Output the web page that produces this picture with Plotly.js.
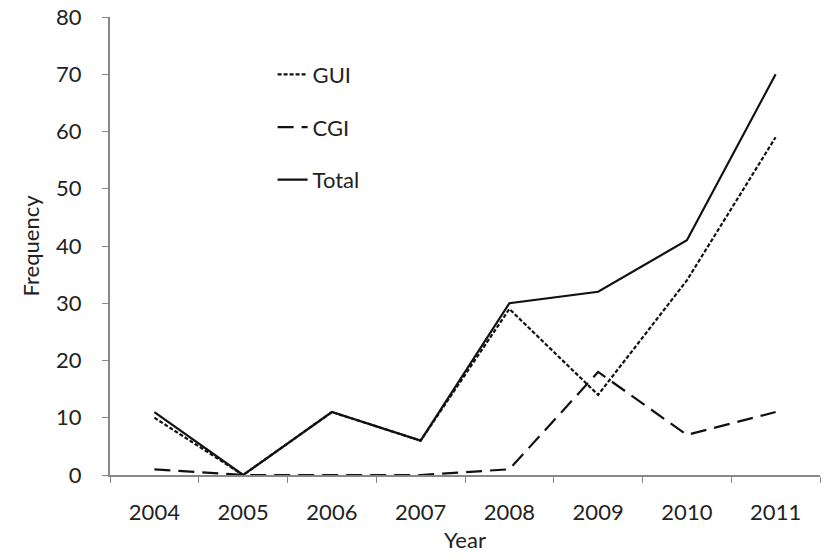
<!DOCTYPE html>
<html>
<head>
<meta charset="utf-8">
<script src="https://cdn.plot.ly/plotly-3.0.1.min.js"></script>
<style>html,body{margin:0;padding:0;background:#fff;}#chart{width:827px;height:558px;}</style>
</head>
<body>
<div id="chart"></div>
<script>
const years = ["2004","2005","2006","2007","2008","2009","2010","2011"];
const gui = [10, 0, 11, 6, 29, 14, 34, 59];
const cgi = [1, 0, 0, 0, 1, 18, 7, 11];
const total = [11, 0, 11, 6, 30, 32, 41, 70];
const yTicks = [0,10,20,30,40,50,60,70,80];

const font = "Lato, 'Open Sans', sans-serif";
const traces = [
  {x: years, y: gui, name: "GUI", legendgroup: "g1", type: "scatter", mode: "lines",
   line: {color: "#111", width: 2.2, dash: "4px,2px"}},
  {x: years, y: cgi, name: "CGI", legendgroup: "g2", type: "scatter", mode: "lines",
   line: {color: "#111", width: 2.2, dash: "16px,8px"}},
  {x: years, y: total, name: "Total", legendgroup: "g3", type: "scatter", mode: "lines",
   line: {color: "#111", width: 2.2}}
];
const layout = {
  width: 827, height: 558,
  margin: {l: 110, r: 7, t: 17, b: 83},
  paper_bgcolor: "#fff", plot_bgcolor: "#fff",
  font: {family: font, size: 22, color: "#222"},
  showlegend: true,
  legend: {x: 0.229, y: 0.92, xanchor: "left", yanchor: "top",
    tracegroupgap: 21, font: {size: 22, color: "#222"}, bgcolor: "rgba(0,0,0,0)"},
  xaxis: {type: "category", range: [-0.5, 7.5], tickson: "boundaries",
    ticks: "outside", ticklen: 6, tickcolor: "#888", showline: true, linecolor: "#888",
    linewidth: 2, showgrid: false, zeroline: false, ticklabelstandoff: 17,
    title: {text: "Year", font: {size: 22}, standoff: 8}},
  yaxis: {range: [0, 80], tickvals: yTicks, ticks: "outside", ticklen: 6,
    tickcolor: "#888", showline: true, linecolor: "#888", linewidth: 2,
    showgrid: false, zeroline: false, ticklabelstandoff: 16,
    title: {text: "Frequency", font: {size: 22}, standoff: 10}}
};
Plotly.newPlot("chart", traces, layout, {displayModeBar: false, staticPlot: true});
</script>
</body>
</html>
